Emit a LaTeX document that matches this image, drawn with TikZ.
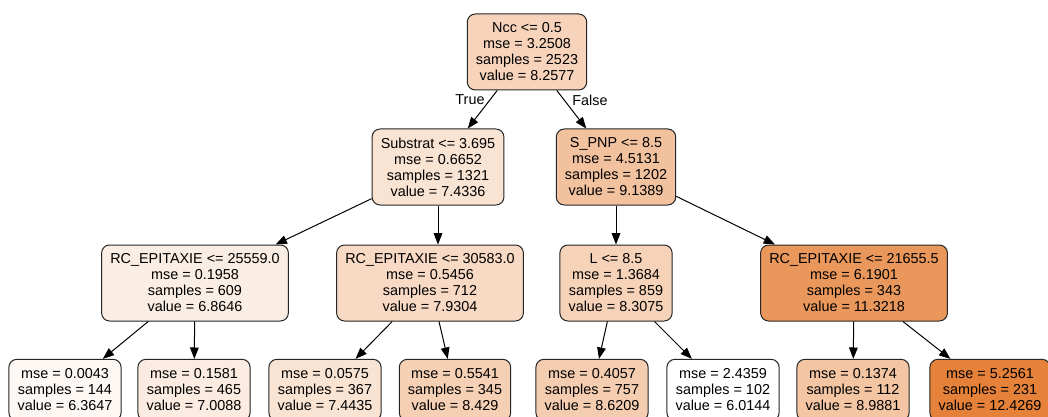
\documentclass[tikz,border=0pt]{standalone}
\usepackage{fontspec}
\setmainfont{Liberation Sans}
\usetikzlibrary{arrows.meta}

\definecolor{cRoot}{RGB}{246,211,186}
\definecolor{cSub}{RGB}{249,227,211}
\definecolor{cPnp}{RGB}{242,194,159}
\definecolor{cRcA}{RGB}{250,237,227}
\definecolor{cRcB}{RGB}{247,217,196}
\definecolor{cL}{RGB}{246,210,184}
\definecolor{cRcC}{RGB}{233,151,91}
\definecolor{cLfA}{RGB}{254,248,244}
\definecolor{cLfB}{RGB}{251,235,224}
\definecolor{cLfC}{RGB}{249,227,211}
\definecolor{cLfD}{RGB}{245,208,180}
\definecolor{cLfE}{RGB}{244,204,175}
\definecolor{cLfF}{RGB}{255,255,255}
\definecolor{cLfG}{RGB}{243,197,163}
\definecolor{cLfH}{RGB}{229,129,57}

\begin{document}
\begin{tikzpicture}[x=0.75pt, y=-0.75pt,
  every node/.style={font=\fontsize{10.8}{12}\selectfont},
  split/.style={draw=black!85, line width=0.75pt, rounded corners=6pt, align=center,
    inner xsep=6.5pt, minimum height=57pt},
  leaf/.style={split, minimum height=46pt},
  edge/.style={-{Triangle[length=8.5pt,width=6.5pt]}, line width=0.75pt}]
  \clip (0,0) rectangle (1048,417);
  \fill[white] (0,0) rectangle (1048,417);

  % depth 0 and 1
  \node[split, fill=cRoot] (root) at (527,52) {Ncc <= 0.5\\mse = 3.2508\\samples = 2523\\value = 8.2577};
  \node[split, fill=cSub] (sub) at (438,167) {Substrat <= 3.695\\mse = 0.6652\\samples = 1321\\value = 7.4336};
  \node[split, fill=cPnp] (spnp) at (616,167) {S\_PNP <= 8.5\\mse = 4.5131\\samples = 1202\\value = 9.1389};

  % depth 2
  \node[split, fill=cRcA] (rca) at (195,283) {RC\_EPITAXIE <= 25559.0\\mse = 0.1958\\samples = 609\\value = 6.8646};
  \node[split, fill=cRcB] (rcb) at (430,283) {RC\_EPITAXIE <= 30583.0\\mse = 0.5456\\samples = 712\\value = 7.9304};
  \node[split, fill=cL] (lsplit) at (616,283) {L <= 8.5\\mse = 1.3684\\samples = 859\\value = 8.3075};
  \node[split, fill=cRcC] (rcc) at (854,283) {RC\_EPITAXIE <= 21655.5\\mse = 6.1901\\samples = 343\\value = 11.3218};

  % leaves
  \node[leaf, fill=cLfA] (lfa) at (65,390) {mse = 0.0043\\samples = 144\\value = 6.3647};
  \node[leaf, fill=cLfB] (lfb) at (194,390) {mse = 0.1581\\samples = 465\\value = 7.0088};
  \node[leaf, fill=cLfC] (lfc) at (325,390) {mse = 0.0575\\samples = 367\\value = 7.4435};
  \node[leaf, fill=cLfD] (lfd) at (455,390) {mse = 0.5541\\samples = 345\\value = 8.429};
  \node[leaf, fill=cLfE] (lfe) at (592,390) {mse = 0.4057\\samples = 757\\value = 8.6209};
  \node[leaf, fill=cLfF] (lff) at (723,390) {mse = 2.4359\\samples = 102\\value = 6.0144};
  \node[leaf, fill=cLfG] (lfg) at (853,390) {mse = 0.1374\\samples = 112\\value = 8.9881};
  \node[leaf, fill=cLfH] (lfh) at (990,390) {mse = 5.2561\\samples = 231\\value = 12.4269};

  \draw[edge] (root) -- (sub);
  \draw[edge] (root) -- (spnp);
  \draw[edge] (sub) -- (rca);
  \draw[edge] (sub) -- (sub |- rcb.north);
  \draw[edge] (spnp) -- (lsplit);
  \draw[edge] (spnp) -- (rcc);
  \draw[edge] (rca) -- (lfa);
  \draw[edge] (rca) -- (lfb);
  \draw[edge] (rcb) -- (lfc);
  \draw[edge] (rcb) -- (lfd);
  \draw[edge] (lsplit) -- (lfe);
  \draw[edge] (lsplit) -- (lff);
  \draw[edge] (rcc) -- (lfg);
  \draw[edge] (rcc) -- (lfh);

  \node (truelbl) at (470,100) {True};
  \node (falselbl) at (590,100) {False};
\end{tikzpicture}
\end{document}
